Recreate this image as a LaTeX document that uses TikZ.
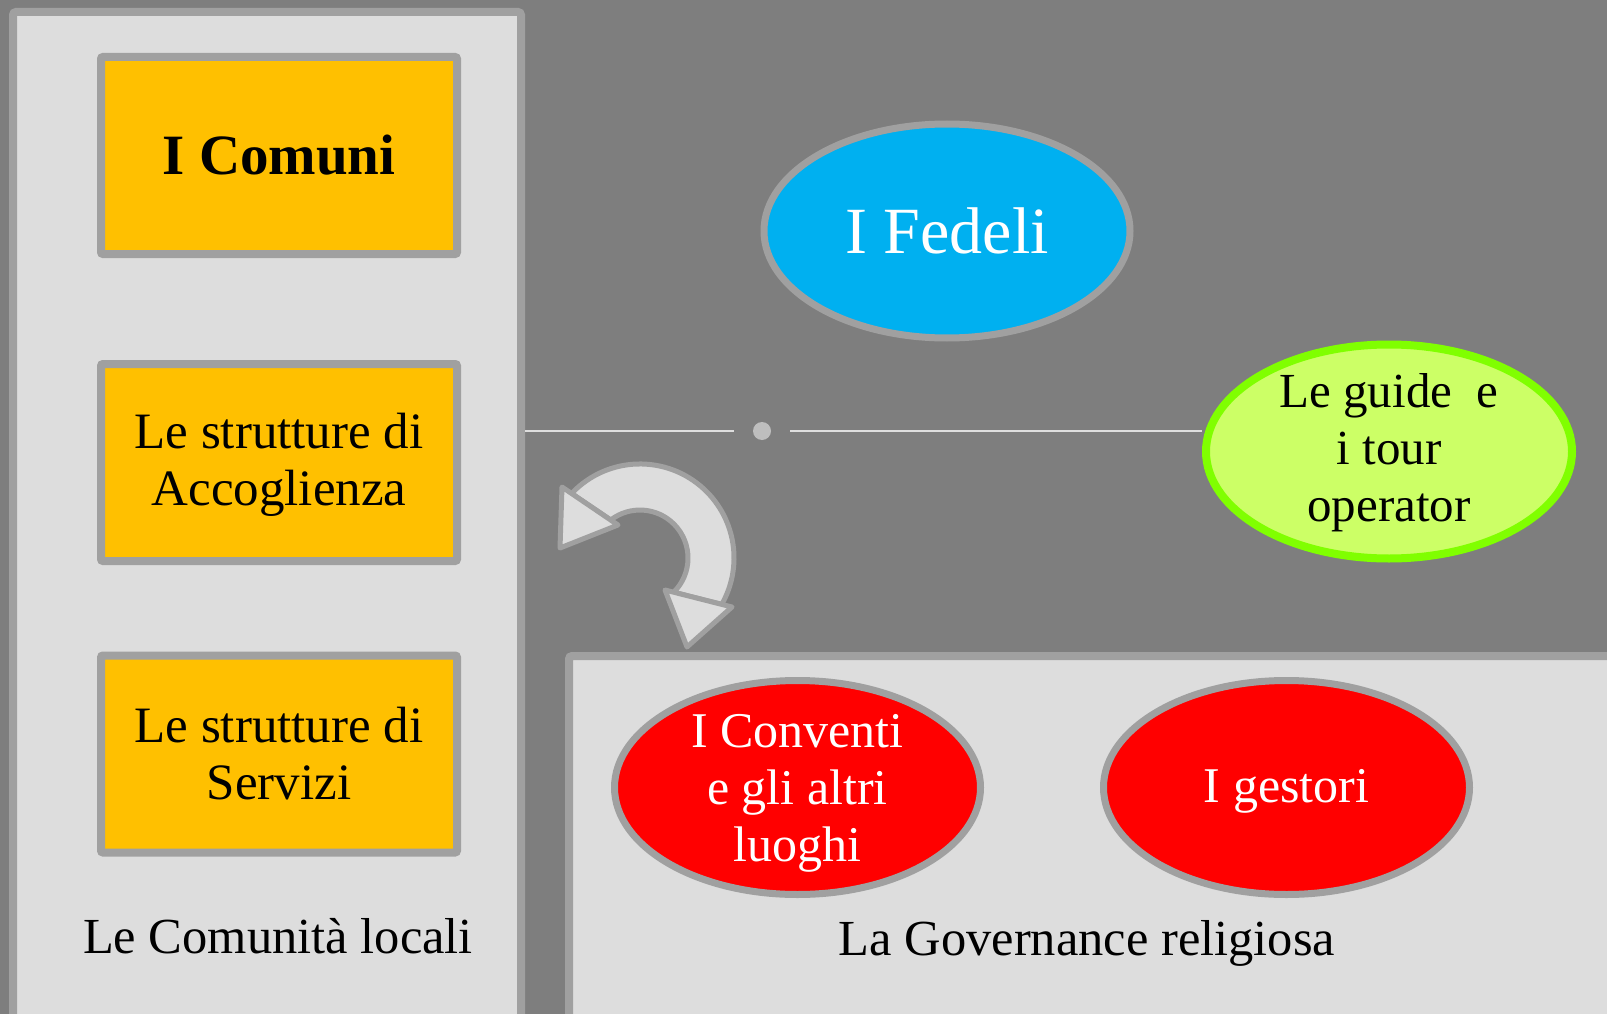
\documentclass[tikz,border=0pt]{standalone}
\usepackage{fontspec}
\setmainfont{Liberation Serif}
\usetikzlibrary{shapes.geometric}
\definecolor{bggray}{RGB}{126,126,126}
\definecolor{panelfill}{RGB}{221,221,221}
\definecolor{bordergray}{RGB}{160,160,160}
\definecolor{boxyellow}{RGB}{255,192,0}
\definecolor{fedeliblue}{RGB}{0,176,240}
\definecolor{guidefill}{RGB}{204,255,102}
\definecolor{guideborder}{RGB}{128,255,0}
\definecolor{linegray}{RGB}{222,222,222}
\definecolor{dotgray}{RGB}{190,190,190}
\definecolor{redfill}{RGB}{255,0,0}
\begin{document}
\begin{tikzpicture}[x=1pt,y=-1pt,
  panel/.style={draw=bordergray, fill=panelfill, line width=8pt, rounded corners=3pt, inner sep=0pt},
  ybox/.style={draw=bordergray, fill=boxyellow, line width=8pt, rounded corners=2pt,
    minimum width=356pt, minimum height=197pt, inner sep=0pt, align=center,
    font=\fontsize{51}{57}\selectfont},
  oval/.style={ellipse, line width=7pt, minimum width=366pt, minimum height=214pt,
    inner xsep=0pt, inner ysep=-40pt, align=center, font=\fontsize{50}{57}\selectfont},
  lbl/.style={anchor=base, inner sep=0pt, font=\fontsize{50.5}{57}\selectfont},
  conn/.style={draw=linegray, line width=2pt},
  arrowpart/.style={draw=bordergray, fill=panelfill, line width=5pt, line join=round}
]
\useasboundingbox (0,0) rectangle (1607,1014);
\clip (0,0) rectangle (1607,1014);
\fill[bggray] (0,0) rectangle (1607,1014);

% panels
\node (leftpanel) [panel, minimum width=508pt, minimum height=1018pt] at (267,521) {};
\node (govpanel) [panel, minimum width=1061pt, minimum height=374pt] at (1099.5,843) {};

% yellow boxes
\node (comuni) [ybox, font=\fontsize{57}{64}\selectfont\bfseries] at (279,155.5) {I Comuni};
\node (accoglienza) [ybox] at (279,462.5) {\rule{0pt}{40.5pt}Le strutture di\\Accoglienza};
\node (servizi) [ybox] at (279,754) {Le strutture di\\Servizi};
\node (comlabel) [lbl] at (278,953) {Le Comunità locali};

% ellipses
\node (fedeli) [oval, draw=bordergray, fill=fedeliblue, text=white,
  font=\fontsize{66}{70}\selectfont] at (947,231) {I Fedeli};
\node (guide) [oval, draw=guideborder, line width=8pt, fill=guidefill,
  font=\fontsize{49}{57}\selectfont] at (1389,451.5) {\rule{0pt}{36pt}Le guide\ \ e\\i tour\\operator};
\node (conventi) [oval, draw=bordergray, fill=redfill, text=white] at (797.5,787.5)
  {\rule{0pt}{44pt}I Conventi\\e gli altri\\luoghi};
\node (gestori) [oval, draw=bordergray, fill=redfill, text=white] at (1286.5,787.5)
  {\rule{0pt}{41pt}I gestori};
\node (govlabel) [lbl] at (1087,955) {La Governance religiosa};

% connector with dot
\node (dot) [circle, fill=dotgray, minimum size=18pt, inner sep=0pt, outer sep=19pt] at (762,431) {};
\draw[conn] (leftpanel.east |- dot) -- (dot);
\draw[conn] (dot) -- (guide.west |- dot);

% circular double arrow: band, then the two heads
\path[arrowpart]
  (571.6,493.5) arc[start angle=-136.7, end angle=29.6, radius=94]
  -- (673.7,592.2)
  arc[start angle=45.4, end angle=-127.6, radius=48]
  -- cycle;
\path[arrowpart] (562,487) -- (618,525) -- (560,548) -- cycle;
\path[arrowpart] (665,590) -- (732,607) -- (687,647) -- cycle;
\end{tikzpicture}
\end{document}
